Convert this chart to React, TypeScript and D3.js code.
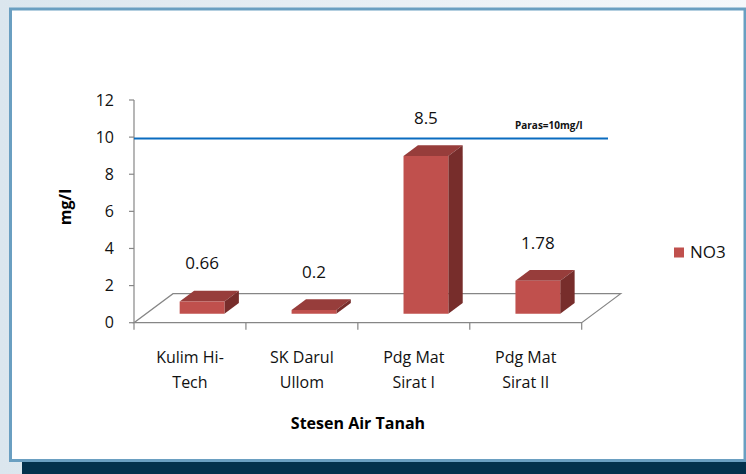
import React from "react";
import * as d3 from "d3";

// data
const stations = ["Kulim Hi-Tech", "SK Darul Ullom", "Pdg Mat Sirat I", "Pdg Mat Sirat II"];
const stationLines = [["Kulim Hi-", "Tech"], ["SK Darul", "Ullom"], ["Pdg Mat", "Sirat I"], ["Pdg Mat", "Sirat II"]];
const no3 = [0.66, 0.2, 8.5, 1.78];
const yTicks = [0, 2, 4, 6, 8, 10, 12];
const parasLevel = 10;
const parasLabel = "Paras=10mg/l";
const seriesName = "NO3";

const W = 746;
const H = 474;
const FONT = "'Open Sans', 'DejaVu Sans', sans-serif";

// 3d depth of the floor (front -> back)
const DX = 39;
const DY = -29;
const Z0 = 0.31;
const Z1 = 0.68;

const front = "#c0504d";
const topC = "#973d3b";
const sideC = "#772d2b";
const grid = "#868686";

const proj = (x: number, y: number, z: number): [number, number] => [x + z * DX, y + z * DY];

const pts = (p: [number, number][]) => p.map(d => d.join(",")).join(" ");

const App = () => {
  const x0 = 134;
  const x1 = 581.7;
  const y = d3.scaleLinear().domain([0, 12]).range([322.7, 100]);
  const x = d3.scaleBand<string>().domain(stations).range([x0, x1]).paddingInner(0.6).paddingOuter(0.3);
  const step = x.step();
  const bw = x.bandwidth();
  const base = y(0);

  const floor: [number, number][] = [
    proj(x0, base, 0), proj(x1, base, 0), proj(x1, base, 1), proj(x0, base, 1)
  ];

  return (
    <svg width={W} height={H} style={{ position: "absolute", left: 0, top: 0 }} fontFamily={FONT}>
      <defs>
        <linearGradient id="bg" x1="0" x2="1" y1="0" y2="0">
          <stop offset="0" stopColor="#dbe6ee" />
          <stop offset="1" stopColor="#f5f8fb" />
        </linearGradient>
      </defs>
      <rect width={W} height={H} fill="url(#bg)" />
      <rect x={22} y={462} width={W - 22} height={12} fill="#03314c" />
      <rect x={10.5} y={9} width={734.5} height={451.5} fill="#fff" stroke="#6a9fc1" strokeWidth={3} />

      {/* floor */}
      <polygon points={pts(floor)} fill="none" stroke={grid} strokeWidth={1.2} />
      {d3.range(stations.length + 1).map(i => (
        <line key={i} x1={x0 + i * step} x2={x0 + i * step} y1={base} y2={base + 7} stroke={grid} strokeWidth={1.2} />
      ))}

      {/* y axis */}
      <line x1={x0} x2={x0} y1={y(12)} y2={base} stroke={grid} strokeWidth={1.2} />
      {yTicks.map(t => (
        <g key={t}>
          <line x1={x0 - 5} x2={x0} y1={y(t)} y2={y(t)} stroke={grid} strokeWidth={1.2} />
          <text x={x0 - 20} y={y(t) + 5.5} textAnchor="end" fontSize={16} fill="#111">{t}</text>
        </g>
      ))}

      {/* bars */}
      {no3.map((v, i) => {
        const bx = x(stations[i])!;
        const yt = y(v);
        const fbl = proj(bx, base, Z0);
        const ftl = proj(bx, yt, Z0);
        const ftr = proj(bx + bw, yt, Z0);
        const fbr = proj(bx + bw, base, Z0);
        const btl = proj(bx, yt, Z1);
        const btr = proj(bx + bw, yt, Z1);
        const bbr = proj(bx + bw, base, Z1);
        return (
          <g key={i}>
            <polygon points={pts([ftl, ftr, btr, btl])} fill={topC} />
            <polygon points={pts([ftr, fbr, bbr, btr])} fill={sideC} />
            <polygon points={pts([fbl, ftl, ftr, fbr])} fill={front} />
            <text x={(ftl[0] + ftr[0]) / 2} y={ftl[1] - 32} textAnchor="middle" fontSize={17} fill="#111">{v}</text>
          </g>
        );
      })}

      {/* threshold line */}
      <line x1={x0} x2={608} y1={y(parasLevel) + 1.5} y2={y(parasLevel) + 1.5} stroke="#0a6cc0" strokeWidth={2} />
      <text x={515} y={129} fontSize={10} fontWeight="bold" fill="#111">{parasLabel}</text>

      {/* category labels */}
      {stationLines.map((lines, i) => (
        <text key={i} textAnchor="middle" fontSize={16} fill="#111">
          {lines.map((l, j) => (
            <tspan key={j} x={x(stations[i])! + bw / 2} y={362.5 + j * 25}>{l}</tspan>
          ))}
        </text>
      ))}

      {/* titles */}
      <text transform="translate(71,207) rotate(-90)" textAnchor="middle" fontSize={16} fontWeight="bold" fill="#000">mg/l</text>
      <text x={358} y={429} textAnchor="middle" fontSize={16} fontWeight="bold" fill="#000">Stesen Air Tanah</text>

      {/* legend */}
      <rect x={674} y={247.5} width={10} height={10} fill={front} />
      <text x={690} y={258} fontSize={17} fill="#111">{seriesName}</text>
    </svg>
  );
};

export default App;
